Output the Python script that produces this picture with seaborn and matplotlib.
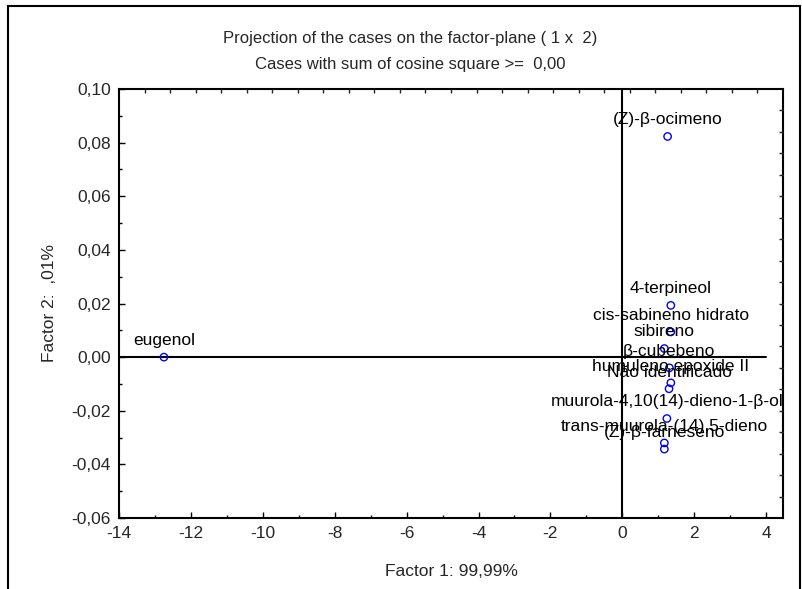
import numpy as np
import matplotlib
matplotlib.use("Agg")
import matplotlib.pyplot as plt
import seaborn as sns
from matplotlib.patches import Rectangle

# case coordinates on factor plane (1 x 2)
cases = ["(Z)-β-ocimeno", "4-terpineol", "cis-sabineno hidrato", "sibireno",
         "β-cubebeno", "humuleno epoxide II", "Não identificado",
         "muurola-4,10(14)-dieno-1-β-ol", "trans-muurola-(14),5-dieno",
         "(Z)-β-farneseno", "eugenol"]
factor1 = [1.26, 1.35, 1.35, 1.17, 1.31, 1.35, 1.30, 1.24, 1.17, 1.17, -12.75]
factor2 = [0.0823, 0.0193, 0.0094, 0.0032, -0.0040, -0.0096, -0.0118,
           -0.0229, -0.0320, -0.0343, 0.0]

xticks = [-14, -12, -10, -8, -6, -4, -2, 0, 2, 4]
yticks = [-0.06, -0.04, -0.02, 0.00, 0.02, 0.04, 0.06, 0.08, 0.10]
ytick_labels = ["-0,06", "-0,04", "-0,02", "0,00", "0,02", "0,04", "0,06", "0,08", "0,10"]

sns.set_theme(style="white")
plt.rcParams['font.family'] = ['Liberation Sans', 'DejaVu Sans']

W, H = 803, 589
fig = plt.figure(figsize=(W / 100, H / 100), dpi=100)
ax = fig.add_axes([119 / W, 1 - 518 / H, (783 - 119) / W, (518 - 89) / H])

sns.scatterplot(x=factor1, y=factor2, ax=ax, marker="o", s=28,
                color="none", edgecolor="blue", linewidth=1, zorder=3)

for name, x, y in zip(cases, factor1, factor2):
    ax.annotate(name, (x, y), xytext=(0, 12), textcoords="offset points",
                ha="center", va="center", fontsize=12.5, color="black",
                clip_on=True, zorder=4)

ax.set_xlim(-14, 4.47)
ax.set_ylim(-0.06, 0.10)
ax.axvline(0, color="black", lw=1.5, zorder=2)
ax.plot([-14, 4], [0, 0], color="black", lw=1.5, zorder=2)

ax.set_xticks(xticks)
ax.set_xticklabels([str(t) for t in xticks])
ax.set_xticks(np.arange(-13, 5, 2), minor=True)
ax.set_yticks(yticks)
ax.set_yticklabels(ytick_labels)
ax.set_yticks(np.arange(-0.05, 0.10, 0.02), minor=True)
ax.tick_params(which="both", direction="in", color="black", labelsize=12.5,
               bottom=True, left=True, top=False, right=False)
ax.tick_params(which="major", length=4, width=1, pad=6)
ax.tick_params(which="minor", length=2.5, width=1)

for s in ax.spines.values():
    s.set_color("black")
    s.set_linewidth(1.5)

ax.set_xlabel("Factor 1: 99,99%", fontsize=12.5, labelpad=16)
ax.set_ylabel("Factor 2:  ,01%", fontsize=12.5, labelpad=10)

# top and right axes carry their own plain tick marks
top = ax.twiny()
top.set_xlim(0, 26)
top.set_xticks(np.arange(1, 26))
top.tick_params(axis="x", direction="in", length=3, width=1, labeltop=False)
right = ax.twinx()
right.set_ylim(0, 20)
right.set_yticks(np.arange(1, 20))
right.tick_params(axis="y", direction="in", length=3, width=1, labelright=False)
for a in (top, right):
    for s in a.spines.values():
        s.set_visible(False)

fig.text(0.511, 1 - 38 / H, "Projection of the cases on the factor-plane ( 1 x  2)",
         ha="center", va="center", fontsize=12)
fig.text(0.511, 1 - 65 / H, "Cases with sum of cosine square >=  0,00",
         ha="center", va="center", fontsize=12)

# outer frame, open at the bottom
fig.add_artist(Rectangle((8 / W, -0.1), (800 - 8) / W, 1.1 - 6 / H,
                         transform=fig.transFigure, fill=False,
                         edgecolor="black", lw=1.5, clip_on=False))

plt.savefig("out.png", dpi=100)
